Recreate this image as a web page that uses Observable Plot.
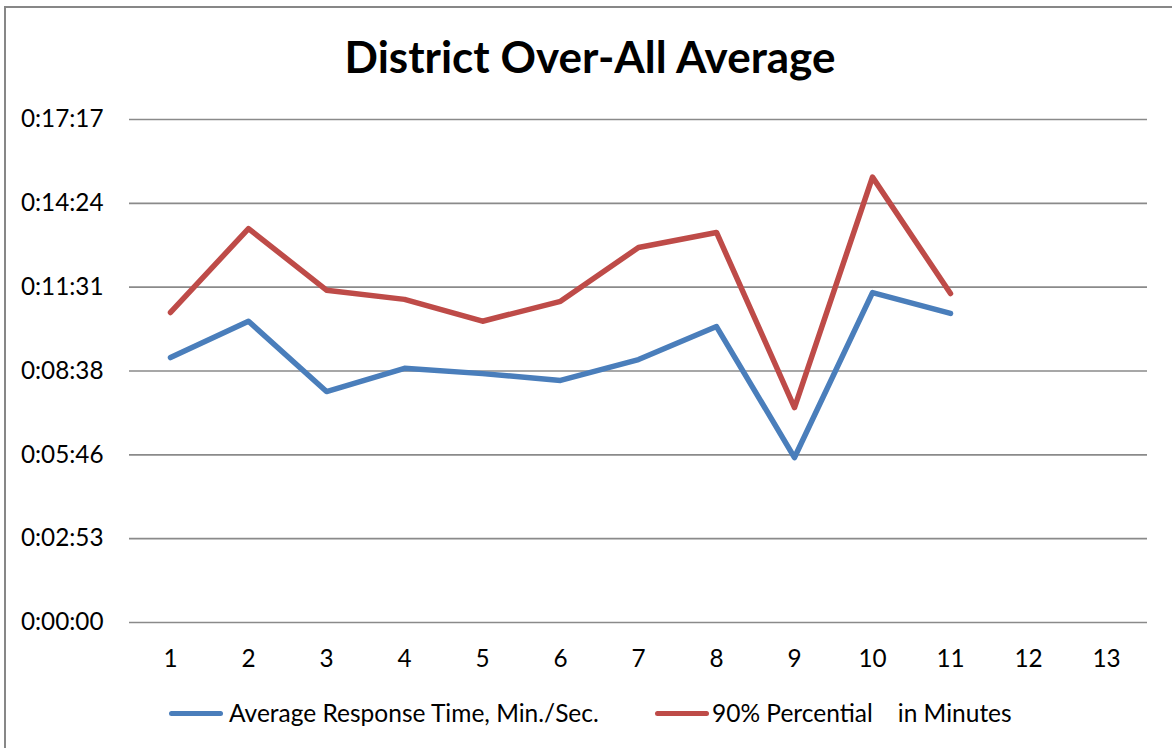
<!DOCTYPE html>
<html>
<head>
<meta charset="utf-8">
<script src="https://cdn.jsdelivr.net/npm/d3@7"></script>
<script src="https://cdn.jsdelivr.net/npm/@observablehq/plot@0.6"></script>
<style>
  html, body { margin: 0; padding: 0; background: #fff; width: 1172px; height: 748px; overflow: hidden; }
  body { position: relative; font-family: Lato, "Open Sans", sans-serif; color: #000; }
  #frame { position: absolute; left: 4px; top: 6px; width: 1200px; height: 800px; border: 2px solid #878787; box-sizing: border-box; }
  #title { position: absolute; left: 0; width: 1180px; top: 28px; text-align: center; font-weight: 700; font-size: 44px; line-height: 56px; }
  #chart { position: absolute; left: 0; top: 90px; }
  #legend { position: absolute; top: 698px; left: 0; width: 1172px; height: 30px; }
  .item { position: absolute; top: 0; display: flex; align-items: center; font-size: 24.5px; line-height: 30px; white-space: pre; }
  .swatch { display: inline-block; width: 54px; height: 5px; border-radius: 3px; }
</style>
</head>
<body>
<div id="frame"></div>
<div id="title">District Over-All Average</div>
<div id="chart"></div>
<div id="legend"></div>
<script>
// Categories (x axis)
const districts = [1, 2, 3, 4, 5, 6, 7, 8, 9, 10, 11, 12, 13];
// Series values in seconds
const avgResponseSec = [546, 621, 476, 524, 513, 499, 542, 610, 340, 680, 637];
const pct90Sec       = [639, 812, 685, 666, 621, 662, 773, 804, 443, 918, 678];
// Y ticks (Excel steps of 0.002 day = 172.8 s) and their labels
const yTicks = [0, 172.8, 345.6, 518.4, 691.2, 864, 1036.8];
const yTickLabels = ["0:00:00", "0:02:53", "0:05:46", "0:08:38", "0:11:31", "0:14:24", "0:17:17"];
// Series names and colours
const seriesNames = ["Average Response Time, Min./Sec.", "90% Percential    in Minutes"];
const seriesColors = ["#4A7EBB", "#BE4B48"];

const rows = [];
avgResponseSec.forEach((v, i) => rows.push({district: districts[i], sec: v, series: seriesNames[0]}));
pct90Sec.forEach((v, i) => rows.push({district: districts[i], sec: v, series: seriesNames[1]}));

const svgTop = 90;
const chart = Plot.plot({
  width: 1172,
  height: 600,
  marginTop: 119 - svgTop,
  marginBottom: 690 - 622,
  marginLeft: 129,
  marginRight: 1172 - 1147,
  style: { fontFamily: "Lato, 'Open Sans', sans-serif", fontSize: "24px", color: "#000", background: "transparent" },
  x: { type: "point", domain: districts, padding: 0.5, label: null },
  y: { domain: [0, 1036.8], label: null },
  color: { domain: seriesNames, range: seriesColors },
  marks: [
    Plot.ruleY(yTicks, { stroke: "#8a8a8a", strokeWidth: 1.6 }),
    Plot.axisY({ ticks: yTicks, tickSize: 0, tickPadding: 26, tickFormat: (d) => yTickLabels[yTicks.indexOf(d)], label: null, fontSize: 24.3 }),
    Plot.axisX({ ticks: districts, tickSize: 0, tickPadding: 27, label: null, fontSize: 24.3 }),
    Plot.line(rows, { x: "district", y: "sec", z: "series", stroke: "series", strokeWidth: 5.5, strokeLinejoin: "round", strokeLinecap: "round" })
  ]
});
document.getElementById("chart").appendChild(chart);

const legend = document.getElementById("legend");
const legendX = [169, 655];
seriesNames.forEach((name, i) => {
  const item = document.createElement("div");
  item.className = "item";
  item.style.left = legendX[i] + "px";
  const sw = document.createElement("span");
  sw.className = "swatch";
  sw.style.background = seriesColors[i];
  sw.style.marginRight = (i === 0 ? 6 : 3) + "px";
  const t = document.createElement("span");
  t.textContent = name;
  item.appendChild(sw);
  item.appendChild(t);
  legend.appendChild(item);
});
</script>
</body>
</html>
